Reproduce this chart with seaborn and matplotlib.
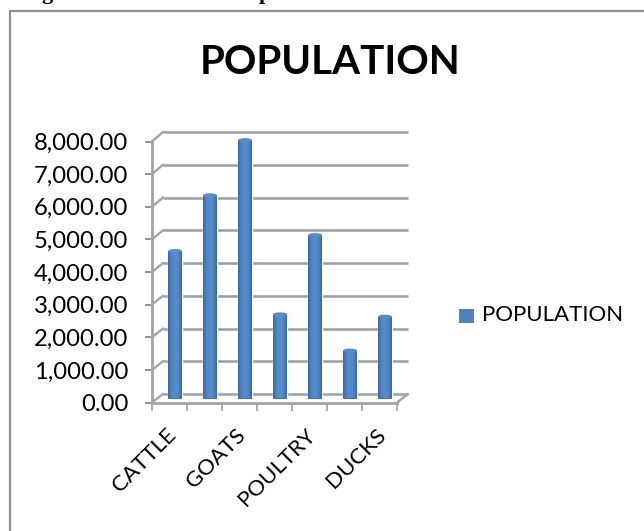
import matplotlib
matplotlib.use("Agg")
import matplotlib.pyplot as plt
import numpy as np
import seaborn as sns
from matplotlib.patches import ConnectionPatch, Ellipse, Rectangle
from matplotlib.transforms import Affine2D

# Livestock population, one bar per slot; only every second slot carries a name
slots = [0, 1, 2, 3, 4, 5, 6]
population = [4520, 6230, 7920, 2580, 5010, 1470, 2510]
tick_labels = ["CATTLE", "", "GOATS", "", "POULTRY", "", "DUCKS"]
y_ticks = [0, 1000, 2000, 3000, 4000, 5000, 6000, 7000, 8000]

W, H = 644, 531
GREY = "#a3a3a3"
BLUE = "#4f81bd"

sns.set_theme(style="white")
plt.rcParams["font.family"] = ["Lato", "DejaVu Sans"]


def box(left, top, right, bottom):
    """Axes rectangle from pixel edges measured from the top-left corner."""
    return [left / W, 1 - bottom / H, (right - left) / W, (bottom - top) / H]


fig = plt.figure(figsize=(W / 100, H / 100), dpi=100, facecolor="white")

# Chart frame running off the right and bottom edges
fig.add_artist(Rectangle((10 / W, -0.02), 1.02, 1.02 - 11 / H, transform=fig.transFigure,
                         fill=False, edgecolor="#8f8f8f", linewidth=1.6))

# Descenders of the caption line cut off by the top edge
for x_px, glyph in [(47, "g"), (265, "p")]:
    fig.text(x_px / W, 1 + 1 / H, glyph, family="Liberation Serif", weight="bold",
             fontsize=16, ha="center", va="baseline", color="black")

xlim = (-0.5, 6.5)
ylim = (0, 8000)

# Three stacked planes fake the depth of the 3-D plot box
back = fig.add_axes(box(163, 132, 408, 394))
mid = fig.add_axes(box(157.5, 137.5, 402.5, 398.5))
front = fig.add_axes(box(152, 141.5, 397, 402.5))

for ax in (back, mid, front):
    ax.set_xlim(*xlim)
    ax.set_ylim(*ylim)
    ax.patch.set_visible(False)
    for side in ax.spines.values():
        side.set_visible(False)

back.set_xticks([])
back.set_yticks([])
back.hlines(y_ticks, *xlim, color=GREY, linewidth=1.9, clip_on=False)

# Perspective connectors from the front axis to the back wall
for v in y_ticks:
    fig.add_artist(ConnectionPatch((xlim[0], v), (xlim[0], v), coordsA=front.transData,
                                   coordsB=back.transData, color=GREY, linewidth=1.7))
fig.add_artist(ConnectionPatch((xlim[1], 0), (xlim[1], 0), coordsA=front.transData,
                               coordsB=back.transData, color=GREY, linewidth=1.7))

# Bars, then a horizontal shading clipped to each one to read as a cylinder
sns.barplot(x=slots, y=population, ax=mid, native_scale=True, color=BLUE,
            saturation=1, width=0.4, legend=False)
mid.set_xlabel("")
mid.set_ylabel("")
mid.set_xticks([])
mid.set_yticks([])

shade = np.abs(np.linspace(-1, 1, 64)) ** 2.2
shade_rgb = (1 - shade)[:, None] * np.array([0.34, 0.55, 0.80]) + shade[:, None] * np.array([0.22, 0.40, 0.62])
for bar in list(mid.patches):
    x0, w, h = bar.get_x(), bar.get_width(), bar.get_height()
    mid.add_patch(Ellipse((x0 + w / 2, 0), w, 120, facecolor="#3f6fa8", edgecolor="none", zorder=3))
    im = mid.imshow(shade_rgb[None, :, :], extent=(x0, x0 + w, 0, h), aspect="auto",
                    zorder=4, interpolation="bilinear")
    im.set_clip_path(bar)
    mid.add_patch(Ellipse((x0 + w / 2, h), w, 120, facecolor="#5c8cc8", edgecolor="none", zorder=5))
mid.set_xlim(*xlim)
mid.set_ylim(*ylim)

# Front axis lines, ticks and labels
front.spines["left"].set_visible(True)
front.spines["bottom"].set_visible(True)
for name in ("left", "bottom"):
    front.spines[name].set_color(GREY)
    front.spines[name].set_linewidth(2.0)

front.set_yticks(y_ticks)
front.set_yticklabels([f"{v:,.2f}" for v in y_ticks])
front.tick_params(axis="y", left=True, length=5, width=1.2, color="#808080", pad=12,
                  labelsize=17.2, labelcolor="black")

# Tick marks sit on slot boundaries, names sit at the slot centres
front.set_xticks(slots)
front.set_xticklabels(tick_labels, rotation=45, ha="right", rotation_mode="anchor")
front.tick_params(axis="x", which="major", bottom=False, length=0, pad=16,
                  labelsize=16, labelcolor="black")
front.set_xticks(np.arange(xlim[0], xlim[1] + 0.5, 1), minor=True)
front.tick_params(axis="x", which="minor", bottom=True, length=5.5, width=1.2, color="#a0a0a0")
for label in front.get_xticklabels():
    label.set_transform(label.get_transform() + Affine2D().translate(-4, 0))

fig.text(330 / W, 1 - 62 / H, "POPULATION", fontsize=29, weight="bold", ha="center",
         va="center", color="black")

# Legend
swatch = Rectangle((459 / W, 1 - 323 / H), 15 / W, 14 / H, transform=fig.transFigure,
                   facecolor=BLUE, edgecolor="none")
fig.add_artist(swatch)
fig.text(482 / W, 1 - 315 / H, "POPULATION", fontsize=16, ha="left", va="center", color="black")

fig.savefig("out.png", dpi=100)
